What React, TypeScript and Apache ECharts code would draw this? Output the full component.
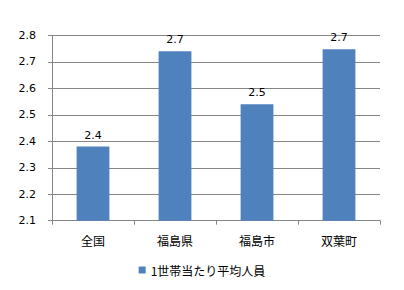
import React, { useEffect, useRef } from "react";
import * as echarts from "echarts";

const categories = ["全国", "福島県", "福島市", "双葉町"];
const seriesName = "1世帯当たり平均人員";
const values = [2.38, 2.74, 2.54, 2.748];
const yMin = 2.1;
const yMax = 2.8;
const yInterval = 0.1;

const FONT = '"Noto Sans CJK JP", "Noto Sans", sans-serif';

export default function App() {
  const ref = useRef<HTMLDivElement>(null);
  useEffect(() => {
    if (!ref.current) return;
    const chart = echarts.init(ref.current, undefined, { renderer: "svg" });
    chart.setOption({
      animation: false,
      backgroundColor: "#ffffff",
      textStyle: { fontFamily: FONT },
      grid: { left: 52, right: 24, top: 35.5, bottom: 69.3, containLabel: false },
      legend: {
        data: [seriesName],
        left: "center",
        top: 259,
        icon: "rect",
        itemWidth: 7,
        itemHeight: 7,
        itemGap: 4,
        textStyle: { fontSize: 12, color: "#000", fontFamily: FONT },
      },
      xAxis: {
        type: "category",
        data: categories,
        axisLine: { lineStyle: { color: "#868686" } },
        axisTick: { show: true, alignWithLabel: false, length: 4, lineStyle: { color: "#868686" } },
        axisLabel: { color: "#000", fontSize: 12, margin: 14, fontFamily: FONT },
        splitLine: { show: false },
      },
      yAxis: {
        type: "value",
        min: yMin,
        max: yMax,
        interval: yInterval,
        axisLine: { show: true, lineStyle: { color: "#868686" } },
        axisTick: { show: true, length: 4, lineStyle: { color: "#868686" } },
        axisLabel: {
          color: "#000",
          fontSize: 11,
          margin: 16,
          fontFamily: "Verdana, 'DejaVu Sans', sans-serif",
          formatter: (v: number) => v.toFixed(1),
        },
        splitLine: { show: true, lineStyle: { color: "#868686", width: 1 } },
      },
      series: [
        {
          name: seriesName,
          type: "bar",
          data: values,
          barWidth: "40%",
          itemStyle: { color: "#4f81bd" },
          label: {
            show: true,
            position: "top",
            distance: 6,
            color: "#000",
            fontSize: 11,
            fontFamily: "Verdana, 'DejaVu Sans', sans-serif",
            formatter: (p: any) => Number(p.value).toFixed(1),
          },
        },
      ],
    });
    return () => chart.dispose();
  }, []);
  return (
    <div
      ref={ref}
      style={{ position: "fixed", left: 0, top: 0, width: 404, height: 290 }}
    />
  );
}
